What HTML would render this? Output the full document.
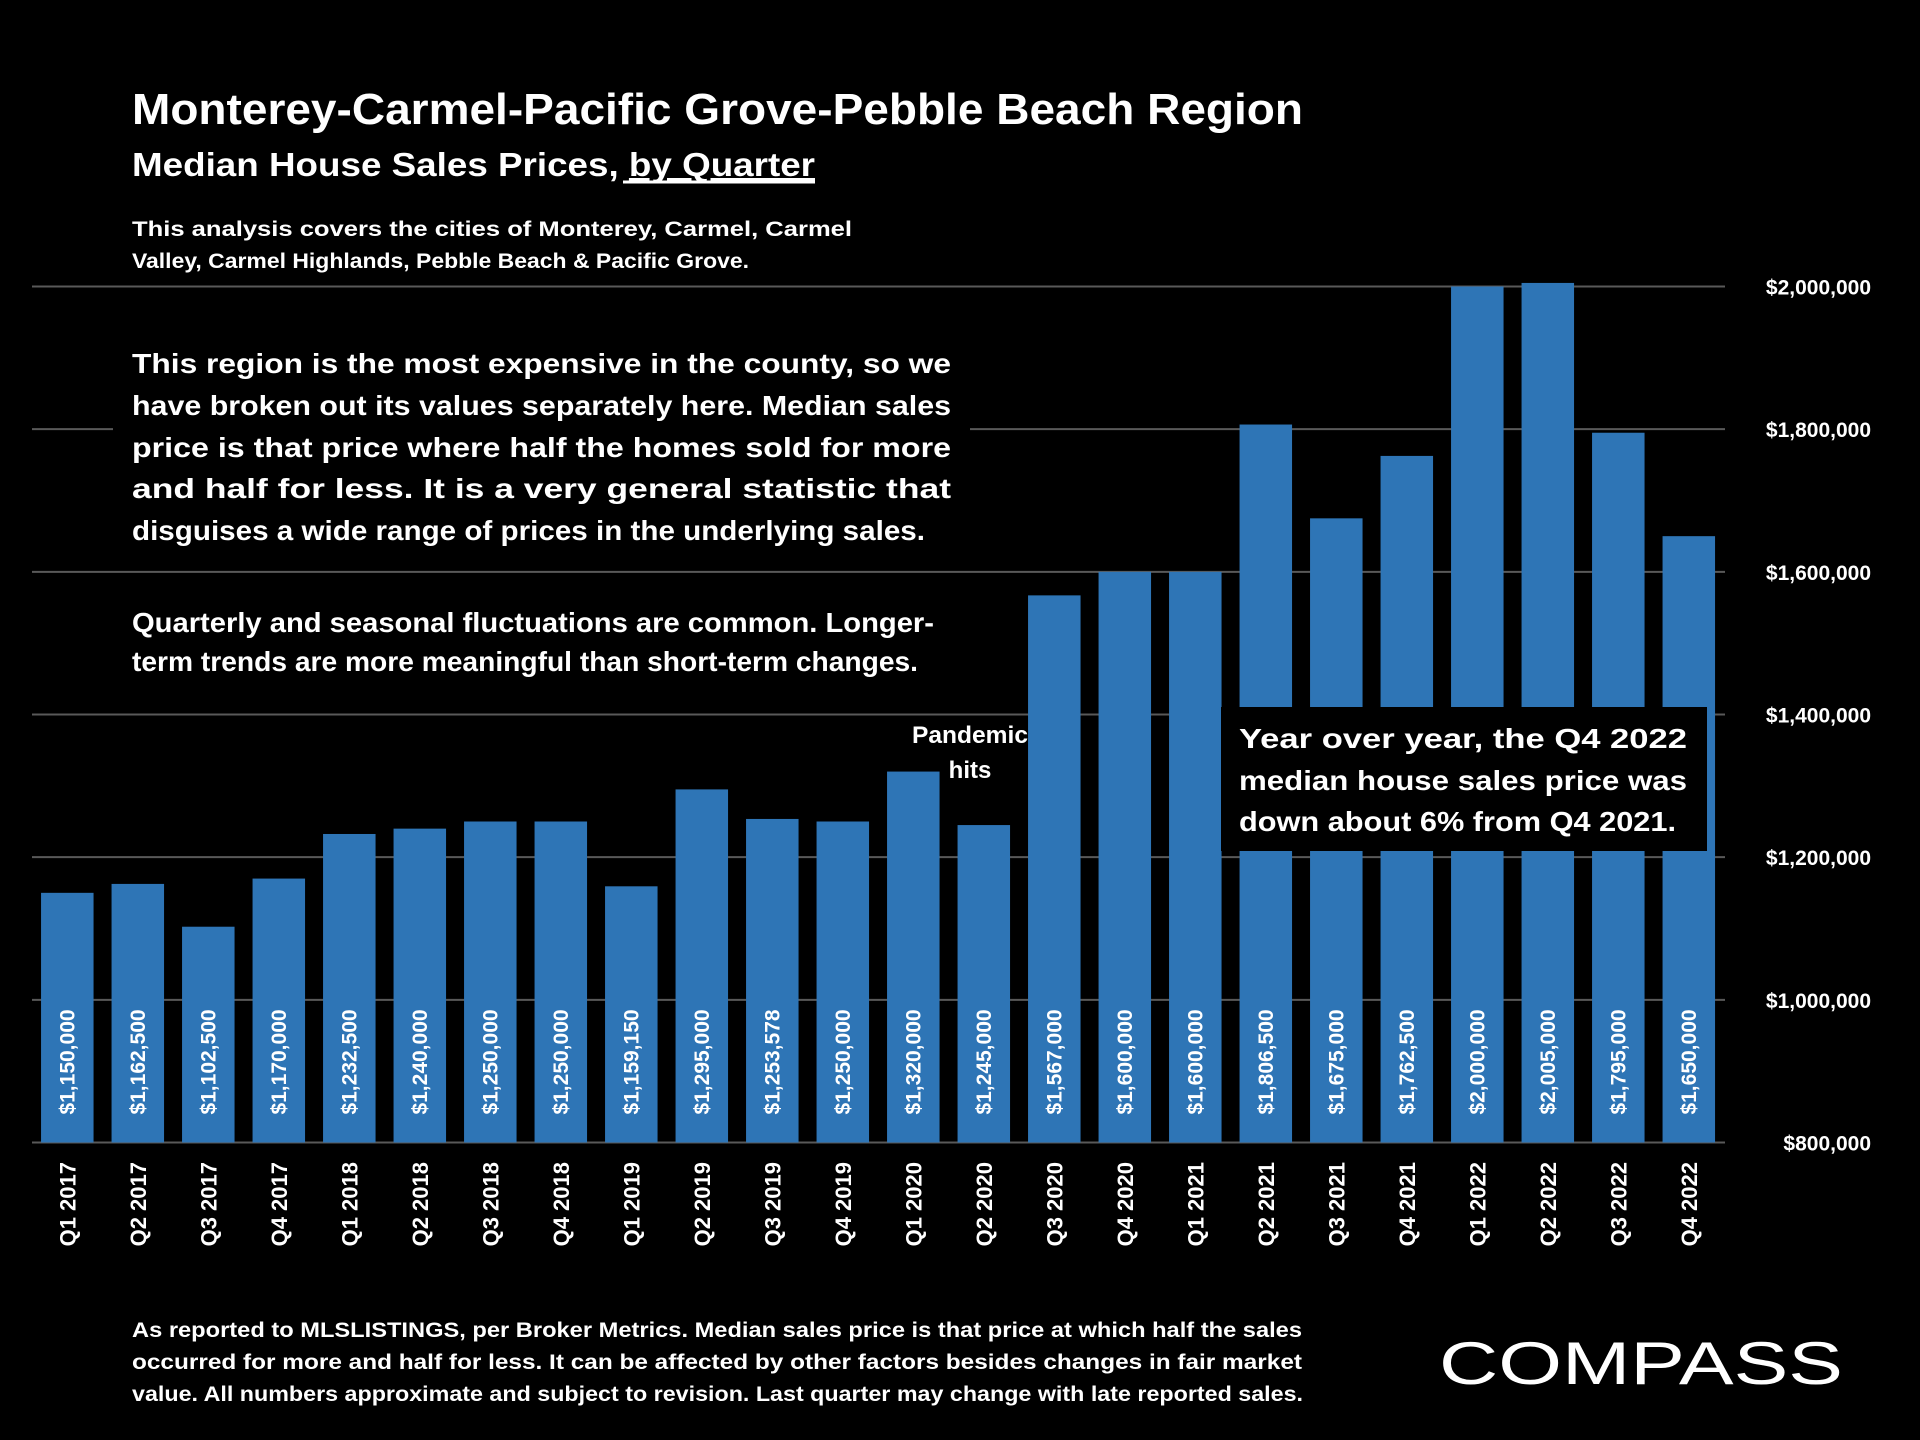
<!DOCTYPE html>
<html><head><meta charset="utf-8"><style>
html,body{margin:0;padding:0;background:#000;}
svg{display:block;font-family:"Liberation Sans",sans-serif;font-weight:bold;}
</style></head><body>
<svg id="chart" width="1920" height="1440" viewBox="0 0 1920 1440" xmlns="http://www.w3.org/2000/svg">
<rect width="1920" height="1440" fill="#000"/>
<g id="grid"></g>
<g id="bars"></g>
<g id="labels"></g>
<g fill="#fff">
<text x="132" y="124" font-size="44" textLength="1171" lengthAdjust="spacingAndGlyphs">Monterey-Carmel-Pacific Grove-Pebble Beach Region</text>
<text x="132" y="176" font-size="33" textLength="683" lengthAdjust="spacingAndGlyphs">Median House Sales Prices, <tspan text-decoration="underline">by Quarter</tspan></text>
<line x1="623" y1="182" x2="815" y2="182" stroke="#fff" stroke-width="3"/>
<text font-size="21">
<tspan x="132" y="236" textLength="720" lengthAdjust="spacingAndGlyphs">This analysis covers the cities of Monterey, Carmel, Carmel</tspan>
<tspan x="132" y="268" textLength="617" lengthAdjust="spacingAndGlyphs">Valley, Carmel Highlands, Pebble Beach &amp; Pacific Grove.</tspan>
</text>
</g>
<rect x="113" y="343" width="857" height="214" fill="#000"/>
<g fill="#fff" font-size="28">
<text x="132" y="373" textLength="819" lengthAdjust="spacingAndGlyphs">This region is the most expensive in the county, so we</text>
<text x="132" y="415" textLength="819" lengthAdjust="spacingAndGlyphs">have broken out its values separately here. Median sales</text>
<text x="132" y="457" textLength="819" lengthAdjust="spacingAndGlyphs">price is that price where half the homes sold for more</text>
<text x="132" y="498" textLength="819" lengthAdjust="spacingAndGlyphs">and half for less. It is a very general statistic that</text>
<text x="132" y="540" textLength="793" lengthAdjust="spacingAndGlyphs">disguises a wide range of prices in the underlying sales.</text>
<text x="132" y="632" textLength="802" lengthAdjust="spacingAndGlyphs">Quarterly and seasonal fluctuations are common. Longer-</text>
<text x="132" y="671" textLength="786" lengthAdjust="spacingAndGlyphs">term trends are more meaningful than short-term changes.</text>
</g>
<g fill="#fff" font-size="24">
<text x="912" y="743" textLength="116" lengthAdjust="spacingAndGlyphs">Pandemic</text>
<text x="970" y="778" text-anchor="middle">hits</text>
</g>
<rect x="1221" y="707" width="486" height="144" fill="#000"/>
<g fill="#fff" font-size="28">
<text x="1239" y="748" textLength="448" lengthAdjust="spacingAndGlyphs">Year over year, the Q4 2022</text>
<text x="1239" y="790" textLength="448" lengthAdjust="spacingAndGlyphs">median house sales price was</text>
<text x="1239" y="831" textLength="437" lengthAdjust="spacingAndGlyphs">down about 6% from Q4 2021.</text>
</g>
<g fill="#fff" font-size="21">
<text x="132" y="1337" textLength="1170" lengthAdjust="spacingAndGlyphs">As reported to MLSLISTINGS, per Broker Metrics. Median sales price is that price at which half the sales</text>
<text x="132" y="1369" textLength="1170" lengthAdjust="spacingAndGlyphs">occurred for more and half for less. It can be affected by other factors besides changes in fair market</text>
<text x="132" y="1401" textLength="1171" lengthAdjust="spacingAndGlyphs">value. All numbers approximate and subject to revision. Last quarter may change with late reported sales.</text>
</g>
<text x="1439" y="1384" fill="#fff" font-size="60" font-weight="normal" textLength="404" lengthAdjust="spacingAndGlyphs">COMPASS</text>
</svg>
<script>
const categories=["Q1 2017","Q2 2017","Q3 2017","Q4 2017","Q1 2018","Q2 2018","Q3 2018","Q4 2018","Q1 2019","Q2 2019","Q3 2019","Q4 2019","Q1 2020","Q2 2020","Q3 2020","Q4 2020","Q1 2021","Q2 2021","Q3 2021","Q4 2021","Q1 2022","Q2 2022","Q3 2022","Q4 2022"];
const values=[1150000,1162500,1102500,1170000,1232500,1240000,1250000,1250000,1159150,1295000,1253578,1250000,1320000,1245000,1567000,1600000,1600000,1806500,1675000,1762500,2000000,2005000,1795000,1650000];
const yTicks=[800000,1000000,1200000,1400000,1600000,1800000,2000000];
const NS="http://www.w3.org/2000/svg";
function yScale(v){return 1142.5-(v-800000)*856/1200000;}
function xScale(i){return 67.3+70.5*i;}
function fmt(v){return "$"+v.toLocaleString("en-US");}
function mk(tag,attrs,parent){const e=document.createElementNS(NS,tag);for(const k in attrs)e.setAttribute(k,attrs[k]);parent.appendChild(e);return e;}
const grid=document.getElementById("grid"),bars=document.getElementById("bars"),labels=document.getElementById("labels");
yTicks.forEach(t=>{
  const y=yScale(t);
  const l=mk("line",{x1:32,x2:1725,y1:y,y2:y,stroke:"#595959","stroke-width":2},grid);
  
  
  const tx=mk("text",{x:1871,y:y+8,"text-anchor":"end",fill:"#fff","font-size":21},labels);
  
  
  tx.textContent=fmt(t);
});
values.forEach((v,i)=>{
  const cx=xScale(i),w=52.5,y=yScale(v);
  const r=mk("rect",{x:cx-w/2,y:y,width:w,height:1142.5-y,fill:"#2E75B6"},bars);
  
  
  const vt=mk("text",{x:0,y:0,"text-anchor":"middle",fill:"#fff","font-size":21,transform:`translate(${cx+7},1062) rotate(-90)`},labels);
  
  
  vt.textContent=fmt(v);
  const ct=mk("text",{x:0,y:0,"text-anchor":"end",fill:"#fff","font-size":22,transform:`translate(${cx+8},1162) rotate(-90)`},labels);
  
  
  ct.textContent=categories[i];
});
</script>
</body></html>
